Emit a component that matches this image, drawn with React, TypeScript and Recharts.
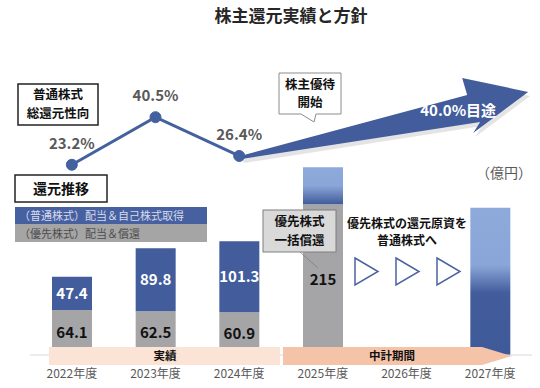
import React from 'react';
import { ComposedChart, Bar, Line, XAxis, YAxis, Cell, LabelList, ReferenceLine } from 'recharts';

const years = ['2022年度', '2023年度', '2024年度', '2025年度', '2026年度', '2027年度'];
// 億円
const preferredReturn = [64.1, 62.5, 60.9, 215, null, null];
const commonReturn = [47.4, 89.8, 101.3, null, null, null];
const commonPlan = [null, null, null, 53, null, 210];
// 総還元性向 (%)
const payoutRatio = [23.2, 40.5, 26.4, null, null, null];
const payoutTarget = 40.0;

const chartData = years.map((year, i) => ({
  year,
  preferred: preferredReturn[i],
  common: commonReturn[i],
  plan: commonPlan[i],
  ratio: payoutRatio[i],
}));

const BLUE = '#425c9c';
const GRAY = '#a5a5a8';
const LINE = '#44619f';
const FONT = '"Noto Sans CJK JP", "Noto Sans", sans-serif';

const TargetArrow = (props: any) => {
  const { x1, y1, x2, y2 } = props;
  if (x1 == null || x2 == null) return null;
  const pts = [
    [x1 + 1, y1],
    [x2 - 23, y2 - 23.6],
    [x2 - 28, y2 - 40.6],
    [x2 + 38, y2 - 26.6],
    [x2 - 17, y2 + 14.4],
    [x2 - 10, y2 + 3.4],
    [x1 + 3, y1 + 3],
  ];
  const d = 'M' + pts.map((p) => `${p[0]},${p[1]}`).join(' L') + ' Z';
  const shadow = 'M' + pts.map((p) => `${p[0] + 2},${p[1] + 4}`).join(' L') + ' Z';
  return (
    <g>
      <path d={shadow} fill="#d9d9d9" opacity={0.7} />
      <path d={d} fill={BLUE} />
      <text x={x2 - 32} y={y2 - 3} textAnchor="middle" fill="#fff" fontSize={15} fontWeight={700} fontFamily={FONT}>
        {payoutTarget.toFixed(1)}%目途
      </text>
    </g>
  );
};

export default function App() {
  return (
    <div style={{ position: 'absolute', left: 0, top: 0, width: 540, height: 388, background: '#fff', fontFamily: FONT }}>
      <ComposedChart width={540} height={388} data={chartData} margin={{ top: 60, right: 8, bottom: 0, left: 30 }}>
        <defs>
          <linearGradient id="planShort" x1="0" y1="0" x2="0" y2="1">
            <stop offset="0%" stopColor="#8eaadb" />
            <stop offset="50%" stopColor="#8aa6d8" />
            <stop offset="100%" stopColor="#3f5a98" />
          </linearGradient>
          <linearGradient id="planTall" x1="0" y1="0" x2="0" y2="1">
            <stop offset="0%" stopColor="#8eaadb" />
            <stop offset="39%" stopColor="#8aa6d8" />
            <stop offset="58%" stopColor="#425c9c" />
            <stop offset="100%" stopColor="#3f5a98" />
          </linearGradient>
        </defs>
        <XAxis
          dataKey="year"
          interval={0}
          height={33}
          tickLine={false}
          axisLine={{ stroke: '#d9d9d9' }}
          tick={{ fill: '#595959', fontSize: 12, fontFamily: FONT, dy: 6 }}
        />
        <YAxis yAxisId="amt" hide domain={[0, 421]} />
        <YAxis yAxisId="rate" hide domain={[-46, 61.3]} allowDataOverflow />
        <Bar yAxisId="amt" dataKey="preferred" stackId="a" fill={GRAY} barSize={40} isAnimationActive={false}>
          <LabelList dataKey="preferred" position="center" fill="#111" fontSize={15} fontWeight={700} fontFamily={FONT} />
        </Bar>
        <Bar yAxisId="amt" dataKey="common" stackId="a" fill={BLUE} barSize={40} isAnimationActive={false}>
          <LabelList dataKey="common" position="center" fill="#fff" fontSize={15} fontWeight={700} fontFamily={FONT} />
        </Bar>
        <Bar yAxisId="amt" dataKey="plan" stackId="a" barSize={40} isAnimationActive={false}>
          {chartData.map((d) => (
            <Cell key={d.year} fill={d.year === '2027年度' ? 'url(#planTall)' : 'url(#planShort)'} />
          ))}
        </Bar>
        <ReferenceLine
          yAxisId="rate"
          segment={[
            { x: years[2], y: payoutRatio[2] },
            { x: years[5], y: payoutTarget },
          ]}
          shape={TargetArrow}
        />
        <Line
          yAxisId="rate"
          dataKey="ratio"
          stroke={LINE}
          strokeWidth={3}
          dot={{ r: 5.5, fill: LINE, stroke: LINE, strokeWidth: 1 }}
          activeDot={false}
          isAnimationActive={false}
        >
          <LabelList
            dataKey="ratio"
            position="top"
            offset={16}
            fill="#595959"
            fontSize={15}
            fontWeight={700}
            fontFamily={FONT}
            formatter={(v: any) => (v == null ? '' : `${Number(v).toFixed(1)}%`)}
          />
        </Line>
      </ComposedChart>

      <svg width={540} height={388} style={{ position: 'absolute', left: 0, top: 0, pointerEvents: 'none' }} fontFamily={FONT}>
        <text x={291} y={22} textAnchor="middle" fontSize={17} fontWeight={700} fill="#262626">株主還元実績と方針</text>

        <rect x={18} y={84} width={80} height={41} fill="#fff" stroke="#222" strokeWidth={1.5} />
        <text x={58} y={99} textAnchor="middle" fontSize={12.5} fontWeight={700} fill="#111">普通株式</text>
        <text x={58} y={117.5} textAnchor="middle" fontSize={12.5} fontWeight={700} fill="#111">総還元性向</text>

        <rect x={15} y={175} width={92} height={27} fill="#fff" stroke="#222" strokeWidth={1.5} />
        <text x={61} y={193.5} textAnchor="middle" fontSize={14} fontWeight={700} fill="#111">還元推移</text>

        <rect x={15} y={207} width={192} height={17} fill="#4660a0" />
        <text x={19} y={219.5} fontSize={11} fill="#d6dbeb">（普通株式）配当＆自己株式取得</text>
        <rect x={15} y={224} width={192} height={18} fill="#a5a5a5" />
        <text x={19} y={237.5} fontSize={11} fill="#4d4d4d">（優先株式）配当＆償還</text>

        <path d="M279,73 H341 V114 H316 L314,122 L301,114 H279 Z" fill="#fff" stroke="#8c8c8c" strokeWidth={1} />
        <text x={310} y={88.5} textAnchor="middle" fontSize={12.5} fontWeight={700} fill="#111">株主優待</text>
        <text x={310} y={107} textAnchor="middle" fontSize={12.5} fontWeight={700} fill="#111">開始</text>

        <text x={504} y={178} textAnchor="middle" fontSize={14} fill="#595959">（億円）</text>

        <line x1={300} y1={252} x2={318} y2={268} stroke="#7f7f7f" strokeWidth={0.8} />
        <rect x={263} y={210} width={73} height={42} fill="#d9d9d9" stroke="#7f7f7f" strokeWidth={1} />
        <text x={299.5} y={226} textAnchor="middle" fontSize={12.5} fontWeight={700} fill="#111">優先株式</text>
        <text x={299.5} y={244.5} textAnchor="middle" fontSize={12.5} fontWeight={700} fill="#111">一括償還</text>

        <text x={407} y={227.5} textAnchor="middle" fontSize={12} fontWeight={700} fill="#111">優先株式の還元原資を</text>
        <text x={407} y={245} textAnchor="middle" fontSize={12} fontWeight={700} fill="#111">普通株式へ</text>
        {[355, 396, 437].map((x) => (
          <polygon key={x} points={`${x},258 ${x + 23},271.5 ${x},285`} fill="#fff" stroke="#4a63a0" strokeWidth={1.5} />
        ))}

        <rect x={49} y={347} width={231} height={18} fill="#fbe3d6" />
        <text x={165} y={360} textAnchor="middle" fontSize={11.5} fontWeight={700} fill="#111">実績</text>
        <polygon points="283,347 482,347 512,356 482,365 283,365" fill="#f4c3a8" />
        <text x={392} y={360} textAnchor="middle" fontSize={11.5} fontWeight={700} fill="#111">中計期間</text>
      </svg>
    </div>
  );
}
